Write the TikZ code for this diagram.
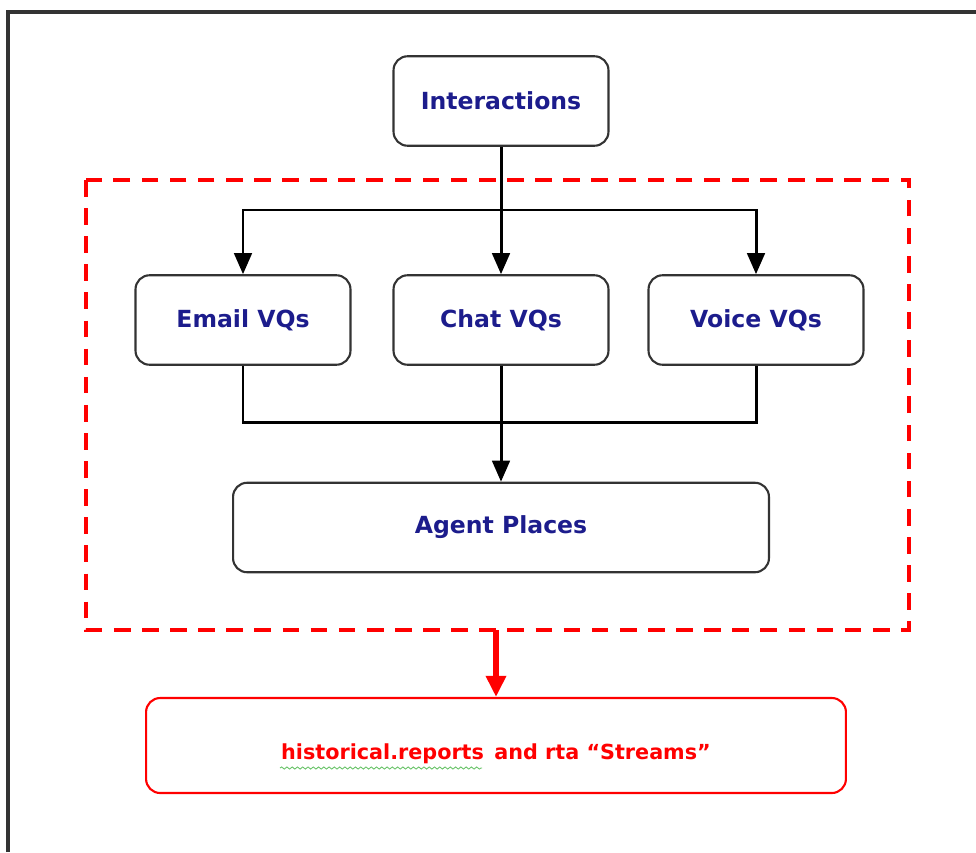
\documentclass[tikz,border=0pt]{standalone}
\usepackage{fontspec}
\setmainfont{DejaVu Sans}
\usetikzlibrary{arrows.meta,decorations.pathmorphing}
\definecolor{navytext}{RGB}{28,28,140}

\begin{document}
\begin{tikzpicture}[x=0.02cm,y=-0.02cm,
	box/.style={draw=black!80,line width=1.2pt,rounded corners=8pt,minimum width=4.3cm,minimum height=1.79cm,font=\bfseries\fontsize{13.4}{16}\selectfont,text=navytext},
	wire/.style={line width=1.7pt,black},
	tip/.style={-{Triangle[length=12pt,width=10pt]}}]
	\useasboundingbox (0,0) rectangle (976,852);
	\draw[line width=1.8pt,black!80] (8,852)--(8,12)--(976,12);
	\draw[red,line width=2pt,dash pattern=on 9.5pt off 6.5pt] (86,180) rectangle (909,630);
			\node[box] (I) at (501,101) {Interactions};
			\node[box] (E) at (243,320) {Email VQs};
			\node[box] (C) at (501,320) {Chat VQs};
			\node[box] (V) at (756,320) {Voice VQs};
			\node[box,minimum width=10.72cm] (P) at (501,527.5) {Agent Places};
			\node[box,draw=red,text=red,font=\bfseries\fontsize{11.8}{14}\selectfont,minimum width=14cm,minimum height=1.9cm] (R) at (496,745.5) {\raisebox{-8pt}[0pt][0pt]{historical.reports\hspace{0.5em}and rta “Streams”}};
			\coordinate (T) at (501,210);
			\coordinate (B) at (501,422);
			\coordinate (F) at (496,630);
			\draw[wire] (I)--(T);
			\draw[wire,tip] (T)--(C);
			\draw[wire,tip] (T)-|(E);
			\draw[wire,tip] (T)-|(V);
			\draw[wire] (E)|-(B)-|(V);
			\draw[wire,tip] (C)--(P);
			\draw[red,line width=3.4pt,-{Triangle[length=12pt,width=11pt]}] (F)--(R);
			\draw[green!60!black!60,line width=0.5pt,decorate,decoration={snake,amplitude=0.6pt,segment length=3pt}] (280,768)--(482,768);
		\end{tikzpicture}
\end{document}
